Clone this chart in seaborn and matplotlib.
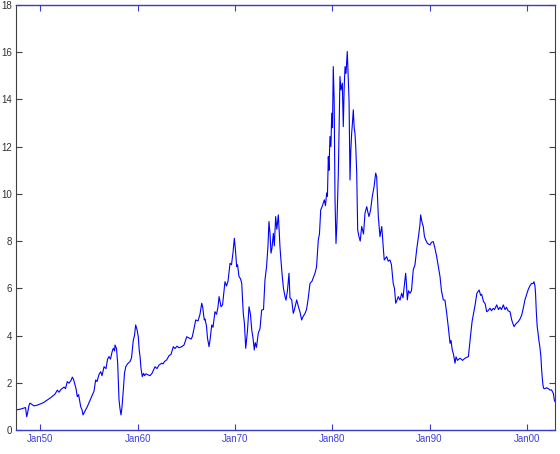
import matplotlib
matplotlib.use("Agg")
import matplotlib.pyplot as plt
import seaborn as sns
import pandas as pd

years = [1947.49, 1947.90, 1948.31, 1948.47, 1948.59, 1948.67, 1948.83, 1948.93, 1949.14, 1949.34,
         1949.65, 1949.96, 1950.27, 1950.71, 1950.99, 1951.29, 1951.50, 1951.74, 1951.91, 1952.12,
         1952.43, 1952.58, 1952.76, 1952.94, 1953.14, 1953.28, 1953.40, 1953.56, 1953.66, 1953.79,
         1953.92, 1954.14, 1954.28, 1954.38, 1954.58, 1954.82, 1954.99, 1955.15, 1955.33, 1955.51,
         1955.68, 1955.82, 1956.02, 1956.20, 1956.33, 1956.54, 1956.74, 1956.90, 1957.05, 1957.20,
         1957.36, 1957.49, 1957.62, 1957.67, 1957.82, 1957.94, 1958.08, 1958.18, 1958.28, 1958.38,
         1958.52, 1958.64, 1958.77, 1958.95, 1959.21, 1959.36, 1959.55, 1959.67, 1959.79, 1959.93,
         1960.06, 1960.15, 1960.24, 1960.34, 1960.47, 1960.60, 1960.70, 1960.85, 1961.09, 1961.26,
         1961.47, 1961.78, 1961.98, 1962.19, 1962.47, 1962.60, 1962.75, 1962.98, 1963.22, 1963.42,
         1963.66, 1963.83, 1964.04, 1964.24, 1964.52, 1964.76, 1965.04, 1965.27, 1965.48, 1965.61,
         1965.79, 1965.96, 1966.20, 1966.40, 1966.58, 1966.68, 1966.84, 1966.92, 1967.07, 1967.17,
         1967.33, 1967.43, 1967.61, 1967.74, 1967.94, 1968.10, 1968.25, 1968.36, 1968.46, 1968.56,
         1968.72, 1968.87, 1968.97, 1969.13, 1969.28, 1969.49, 1969.64, 1969.79, 1969.93, 1970.05,
         1970.17, 1970.26, 1970.41, 1970.57, 1970.69, 1970.85, 1970.97, 1971.10, 1971.18, 1971.28,
         1971.44, 1971.59, 1971.72, 1971.85, 1971.98, 1972.08, 1972.21, 1972.39, 1972.57, 1972.74,
         1972.93, 1973.08, 1973.24, 1973.39, 1973.49, 1973.60, 1973.70, 1973.80, 1973.94, 1974.04,
         1974.18, 1974.30, 1974.45, 1974.52, 1974.62, 1974.72, 1974.86, 1974.98, 1975.14, 1975.24,
         1975.39, 1975.55, 1975.65, 1975.83, 1975.99, 1976.11, 1976.34, 1976.53, 1976.68, 1976.85,
         1976.99, 1977.20, 1977.35, 1977.50, 1977.71, 1977.91, 1978.22, 1978.38, 1978.56, 1978.68,
         1978.81, 1978.99, 1979.18, 1979.30, 1979.42, 1979.50, 1979.59, 1979.66, 1979.76, 1979.86,
         1979.94, 1980.02, 1980.10, 1980.19, 1980.28, 1980.38, 1980.48, 1980.62, 1980.71, 1980.79,
         1980.89, 1981.03, 1981.13, 1981.22, 1981.31, 1981.41, 1981.54, 1981.63, 1981.72, 1981.82,
         1981.90, 1981.99, 1982.07, 1982.16, 1982.25, 1982.33, 1982.41, 1982.51, 1982.61, 1982.74,
         1982.87, 1983.02, 1983.21, 1983.36, 1983.54, 1983.67, 1983.77, 1983.93, 1984.11, 1984.29,
         1984.46, 1984.56, 1984.73, 1984.90, 1985.08, 1985.16, 1985.26, 1985.34, 1985.59, 1985.75,
         1985.93, 1986.08, 1986.26, 1986.39, 1986.52, 1986.65, 1986.78, 1986.96, 1987.13, 1987.27,
         1987.42, 1987.54, 1987.62, 1987.71, 1987.83, 1987.98, 1988.14, 1988.32, 1988.50, 1988.67,
         1988.86, 1989.01, 1989.08, 1989.22, 1989.35, 1989.47, 1989.60, 1989.78, 1990.04, 1990.20,
         1990.38, 1990.55, 1990.73, 1990.91, 1991.07, 1991.22, 1991.41, 1991.58, 1991.76, 1991.94,
         1992.10, 1992.20, 1992.33, 1992.46, 1992.61, 1992.72, 1992.87, 1993.13, 1993.39, 1993.64,
         1993.99, 1994.21, 1994.37, 1994.52, 1994.68, 1994.86, 1995.09, 1995.25, 1995.35, 1995.54,
         1995.71, 1995.87, 1996.01, 1996.21, 1996.36, 1996.54, 1996.67, 1996.90, 1997.08, 1997.23,
         1997.39, 1997.58, 1997.75, 1997.90, 1998.06, 1998.27, 1998.44, 1998.57, 1998.68, 1998.88,
         1999.12, 1999.29, 1999.47, 1999.65, 1999.80, 1999.95, 2000.12, 2000.30, 2000.49, 2000.62,
         2000.73, 2000.83, 2000.89, 2000.97, 2001.06, 2001.15, 2001.23, 2001.34, 2001.44, 2001.51,
         2001.57, 2001.64, 2001.71, 2001.84, 2002.02, 2002.20, 2002.38, 2002.53, 2002.72, 2002.82,
         2002.89]

rates = [0.85, 0.88, 0.93, 0.95, 0.56, 0.70, 1.05, 1.14, 1.08, 1.02,
         1.05, 1.10, 1.15, 1.27, 1.35, 1.45, 1.52, 1.69, 1.60, 1.72,
         1.82, 1.75, 2.05, 1.98, 2.10, 2.24, 2.15, 1.90, 1.75, 1.41,
         1.50, 0.99, 0.85, 0.64, 0.80, 0.99, 1.15, 1.30, 1.48, 1.65,
         2.12, 2.05, 2.35, 2.47, 2.30, 2.68, 2.60, 3.00, 3.11, 3.00,
         3.30, 3.46, 3.35, 3.60, 3.45, 2.83, 1.27, 0.90, 0.64, 0.95,
         1.69, 2.40, 2.68, 2.80, 2.90, 3.05, 3.81, 4.00, 4.45, 4.25,
         3.95, 3.40, 3.11, 2.60, 2.26, 2.40, 2.30, 2.38, 2.33, 2.30,
         2.40, 2.68, 2.60, 2.75, 2.83, 2.80, 2.90, 2.97, 3.15, 3.20,
         3.53, 3.45, 3.55, 3.48, 3.53, 3.60, 3.95, 3.90, 3.85, 3.95,
         4.30, 4.66, 4.62, 4.90, 5.37, 5.20, 4.66, 4.70, 4.40, 3.90,
         3.53, 3.80, 4.45, 4.35, 5.01, 4.90, 5.20, 5.65, 5.45, 5.22,
         5.30, 5.90, 6.28, 6.10, 6.30, 7.06, 7.00, 7.50, 8.12, 7.60,
         6.92, 7.00, 6.50, 6.40, 6.21, 4.94, 4.50, 3.46, 3.80, 4.20,
         5.22, 4.90, 4.24, 3.90, 3.39, 3.70, 3.50, 4.10, 4.30, 5.08,
         5.10, 6.36, 6.90, 7.80, 8.83, 8.30, 7.49, 7.70, 8.33, 7.80,
         9.04, 8.50, 9.11, 8.60, 7.77, 7.20, 6.50, 6.00, 5.65, 5.50,
         5.90, 6.64, 5.60, 5.51, 4.94, 5.10, 5.51, 5.20, 5.00, 4.66,
         4.80, 4.94, 5.10, 5.50, 6.21, 6.30, 6.64, 6.90, 8.05, 8.30,
         9.32, 9.50, 9.75, 9.50, 10.04, 9.90, 11.58, 11.00, 12.43, 12.00,
         13.42, 12.80, 15.39, 14.00, 9.75, 7.90, 8.80, 10.88, 13.00, 14.97,
         14.40, 14.69, 12.85, 14.50, 15.39, 15.10, 16.03, 15.00, 13.98, 10.59,
         11.80, 12.57, 13.00, 13.56, 12.80, 12.57, 12.00, 10.88, 8.47, 8.19,
         8.00, 8.62, 8.30, 9.18, 9.46, 9.20, 9.04, 9.30, 9.89, 10.30,
         10.88, 10.73, 9.04, 8.19, 8.62, 8.20, 7.60, 7.20, 7.34, 7.15,
         7.20, 7.00, 6.21, 6.00, 5.37, 5.50, 5.65, 5.50, 5.79, 5.60,
         6.20, 6.64, 6.20, 5.51, 5.90, 5.79, 5.90, 6.78, 7.00, 7.63,
         8.20, 8.70, 9.11, 8.80, 8.62, 8.20, 8.05, 7.90, 7.84, 7.95,
         7.98, 7.70, 7.34, 6.90, 6.50, 5.90, 5.51, 5.50, 4.94, 4.30,
         3.67, 3.80, 3.39, 3.20, 2.83, 3.10, 2.95, 3.04, 2.95, 3.04,
         3.11, 4.00, 4.60, 4.94, 5.30, 5.79, 5.93, 5.70, 5.75, 5.44,
         5.35, 5.01, 5.05, 5.16, 5.05, 5.15, 5.10, 5.30, 5.10, 5.20,
         5.10, 5.30, 5.10, 5.20, 5.05, 5.01, 4.66, 4.50, 4.38, 4.50,
         4.59, 4.70, 4.87, 5.20, 5.51, 5.70, 5.93, 6.10, 6.21, 6.20,
         6.28, 6.10, 5.79, 5.00, 4.38, 4.10, 3.81, 3.50, 3.11, 2.60,
         2.26, 1.95, 1.77, 1.75, 1.79, 1.75, 1.69, 1.70, 1.55, 1.27,
         1.20]

tick_years = [1950, 1960, 1970, 1980, 1990, 2000]
tick_labels = ["Jan50", "Jan60", "Jan70", "Jan80", "Jan90", "Jan00"]
y_ticks = [0, 2, 4, 6, 8, 10, 12, 14, 16, 18]

sns.set_style("white")
plt.rcParams['font.family'] = ['Liberation Sans', 'DejaVu Sans']

df = pd.DataFrame({"year": years, "rate": rates})

fig = plt.figure(figsize=(5.6, 4.54), dpi=100)
ax = fig.add_axes([16 / 560, 24 / 454, 539 / 560, 425 / 454])
sns.lineplot(data=df, x="year", y="rate", ax=ax, color="#0000ff",
             linewidth=0.8, estimator=None, sort=False)

ax.set_xlim(years[0], years[-1])
ax.set_ylim(0, 18)
ax.set_xticks(tick_years)
ax.set_xticklabels(tick_labels)
ax.set_yticks(y_ticks)
ax.set_xlabel("")
ax.set_ylabel("")

xcol = "#3a3ad0"
ycol = "#404040"
for s in ["top", "bottom"]:
    ax.spines[s].set_color(xcol)
    ax.spines[s].set_linewidth(1.0)
    ax.spines[s].set_visible(True)
for s in ["left", "right"]:
    ax.spines[s].set_color(ycol)
    ax.spines[s].set_linewidth(0.8)
    ax.spines[s].set_visible(True)

ax.tick_params(axis="x", direction="in", length=4, width=0.8, colors=xcol,
               labelsize=7, pad=3, top=True, bottom=True)
ax.tick_params(axis="y", direction="in", length=4, width=0.8, colors=ycol,
               labelsize=7, pad=3, left=True, right=True)
for lbl in ax.get_xticklabels():
    lbl.set_color("#4040d8")
for lbl in ax.get_yticklabels():
    lbl.set_color("#303030")

fig.savefig("out.png", dpi=100)
